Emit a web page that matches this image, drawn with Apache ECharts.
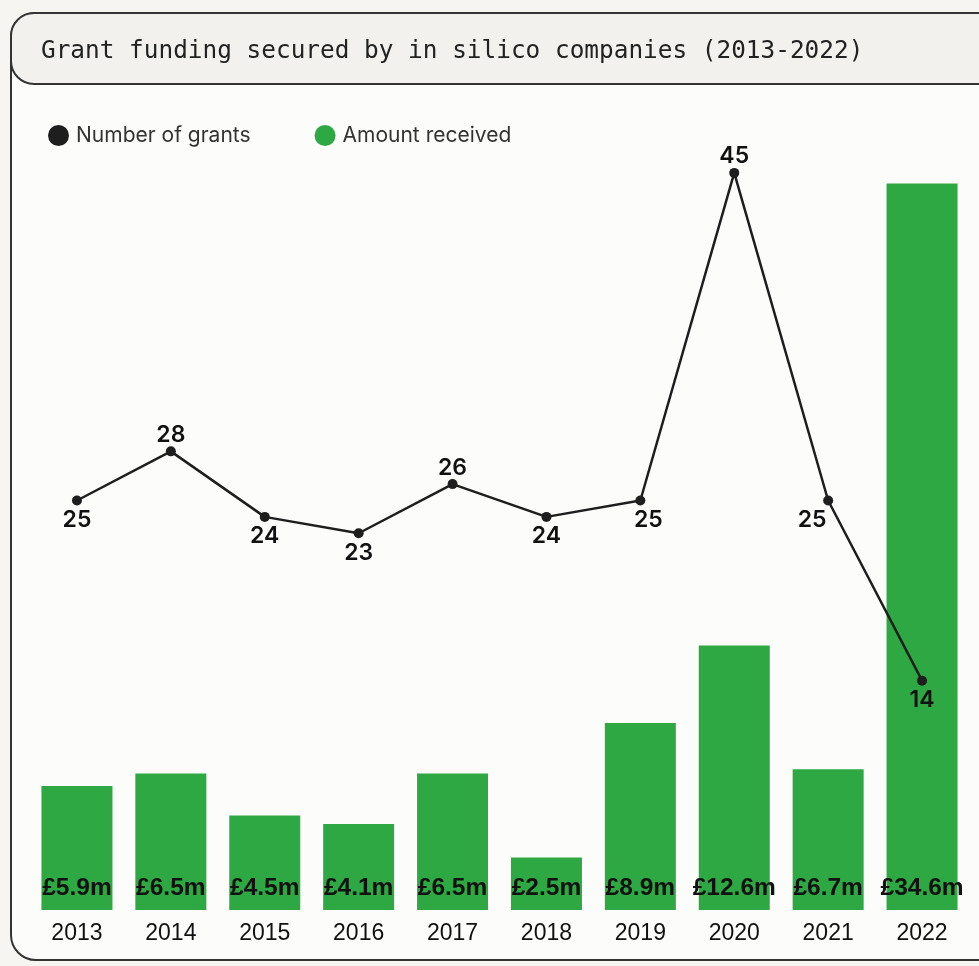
<!DOCTYPE html>
<html>
<head>
<meta charset="utf-8">
<script src="https://cdn.jsdelivr.net/npm/echarts@6/dist/echarts.min.js"></script>
<style>
html,body{margin:0;padding:0;width:979px;height:966px;overflow:hidden;background:#f6f5f1;}
#card{position:absolute;left:10px;top:12px;width:1000px;height:949px;border:2px solid #333;border-radius:26px;background:#fcfcfa;box-sizing:border-box;}
#head{position:absolute;left:10px;top:12px;width:1000px;height:73px;border:2px solid #333;border-radius:24px;background:#f2f1ed;box-sizing:border-box;}
#chart{position:absolute;left:0;top:0;width:979px;height:966px;}
</style>
</head>
<body>
<div id="card"></div>
<div id="head"></div>
<div id="chart"></div>
<script>
const titleText = 'Grant funding secured by in silico companies (2013-2022)';
const years = ['2013','2014','2015','2016','2017','2018','2019','2020','2021','2022'];
const grants = [25,28,24,23,26,24,25,45,25,14];
const amounts = [5.9,6.5,4.5,4.1,6.5,2.5,8.9,12.6,6.7,34.6];
const grantLabelPos = ['bottom','top','bottom','bottom','top','bottom','bottom','top','bottom','bottom'];
const grantLabelOffset = [[0,0],[0,3],[0,0],[0,0],[0,3],[0,0],[8,0],[0,3],[-16,0],[0,0]];

const chart = echarts.init(document.getElementById('chart'), null, {renderer:'canvas'});
const lineData = grants.map((v,i)=>({value:v,label:{position:grantLabelPos[i],offset:grantLabelOffset[i]}}));
chart.setOption({
  backgroundColor:'transparent',
  animation:false,
  title:{text:titleText,left:36,top:35,textStyle:{fontFamily:'DejaVu Sans Mono',fontSize:24.4,fontWeight:'normal',color:'#222'}},
  legend:{
    left:43,top:120,icon:'circle',itemWidth:21,itemHeight:21,itemGap:64,itemStyle:{borderWidth:0},
    textStyle:{fontFamily:'Inter',fontSize:21,color:'#333',padding:[0,0,0,2]},
    data:[{name:'Number of grants',itemStyle:{color:'#1e1e1e'}},{name:'Amount received',itemStyle:{color:'#2ea842'}}]
  },
  grid:{left:30,right:10,top:91,bottom:56},
  xAxis:{type:'category',data:years,axisLine:{show:false},axisTick:{show:false},
    axisLabel:{fontFamily:'Liberation Sans',fontSize:23,color:'#111',margin:12}},
  yAxis:[
    {type:'value',min:0,max:39,show:false,splitLine:{show:false}},
    {type:'value',min:0,max:50,show:false,splitLine:{show:false}}
  ],
  series:[
    {name:'Amount received',type:'bar',yAxisIndex:0,data:amounts,barWidth:71,
      itemStyle:{color:'#2ea842'},
      label:{show:true,position:'insideBottom',distance:9,formatter:p=>'£'+p.value+'m',
        fontFamily:'Liberation Sans',fontWeight:'bold',fontSize:24.5,color:'#111'}},
    {name:'Number of grants',type:'line',yAxisIndex:1,data:lineData,z:5,
      symbol:'circle',symbolSize:10,
      lineStyle:{color:'#1e1e1e',width:2.5},itemStyle:{color:'#1e1e1e'},
      label:{show:true,distance:3,fontFamily:'Inter',fontWeight:600,fontSize:23,color:'#111'}}
  ]
});
</script>
</body>
</html>
